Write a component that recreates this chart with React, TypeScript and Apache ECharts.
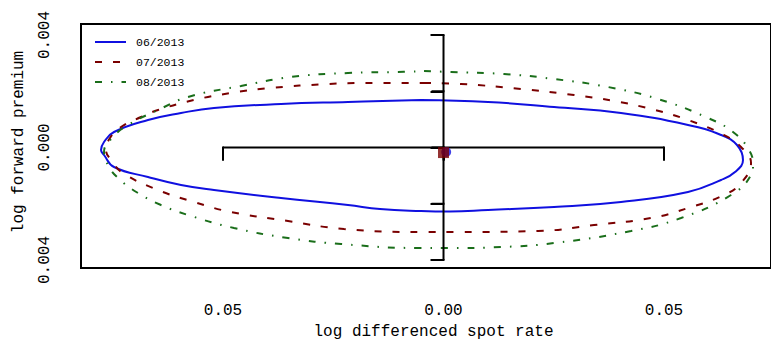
import React, { useEffect, useRef } from "react";
import * as echarts from "echarts";

const seriesNames = ["06/2013", "07/2013", "08/2013"];
const seriesColors = ["#1010e0", "#7a0000", "#1a6e1a"];

// axis ticks and labels
const xTicks = [-0.05, 0, 0.05];
const xTickLabels = ["0.05", "0.00", "0.05"];
const yTicks = [-0.004, -0.002, 0, 0.002, 0.004];
const yLabelTicks = [-0.004, 0, 0.004];
const yTickLabels = ["0.004", "0.000", "0.004"];
const xLimits = [-0.0822, 0.07426];
const yLimits = [-0.004284, 0.004391];

// ellipse outlines (x: log differenced spot rate, y: log forward premium)
const ellipse0613: [number, number][] = [
  [-0.0051, 0.001689], [0.01009, 0.001618], [0.02506, 0.00144], [0.04025, 0.001227],
  [0.05544, 0.0008], [0.06293, 0.000444], [0.06655, 0.0000889], [0.06791, -0.000444],
  [0.0661, -0.000871], [0.06293, -0.001156], [0.05544, -0.001582], [0.04025, -0.001938],
  [0.02506, -0.002116], [0.01009, -0.002222], [0.00147, -0.002276], [-0.0051, -0.002258],
  [-0.0144, -0.002187], [-0.02166, -0.002044],
  [-0.03685, -0.001796], [-0.05204, -0.001511], [-0.05952, -0.001333], [-0.06701, -0.001049],
  [-0.07472, -0.000693], [-0.07698, -0.000267], [-0.07766, -0.0000889], [-0.07698, 0.000196],
  [-0.07472, 0.000551], [-0.06701, 0.000978], [-0.05952, 0.001227], [-0.05204, 0.001404],
  [-0.03685, 0.001547], [-0.02166, 0.001618], [-0.0051, 0.001689],
];
const ellipse0713: [number, number][] = [
  [-0.00442, 0.002293], [0.00397, 0.002258], [0.01757, 0.00208], [0.02959, 0.001867],
  [0.03866, 0.001653], [0.04705, 0.001369], [0.05544, 0.000978], [0.06361, 0.000444],
  [0.06746, 0.0000178], [0.06973, -0.000551], [0.06746, -0.001262], [0.06361, -0.001689],
  [0.05544, -0.002151], [0.04705, -0.002507], [0.03413, -0.002756], [0.02143, -0.002969],
  [0.00397, -0.003004], [-0.0051, -0.003004], [-0.02256, -0.002898], [-0.03526, -0.002613],
  [-0.04819, -0.002293], [-0.05658, -0.001938], [-0.06474, -0.001511], [-0.07268, -0.000907],
  [-0.0754, -0.000444], [-0.07653, -0.0000889], [-0.07562, 0.000338], [-0.07313, 0.000729],
  [-0.06859, 0.001084], [-0.06474, 0.001333], [-0.05658, 0.001689], [-0.04819, 0.001938],
  [-0.03912, 0.002116], [-0.02619, 0.002258], [-0.01803, 0.002293], [-0.00442, 0.002293],
];
const ellipse0813: [number, number][] = [
  [-0.00442, 0.00272], [0.0017, 0.002684], [0.01372, 0.002613], [0.02506, 0.002436],
  [0.0373, 0.002151], [0.04864, 0.001724], [0.05998, 0.001049], [0.06565, 0.000551],
  [0.06927, -0.0000889], [0.07018, -0.000622], [0.06973, -0.000978], [0.06519, -0.001689],
  [0.05385, -0.002507], [0.04252, -0.002969], [0.02506, -0.003396], [0.01304, -0.003538],
  [0.00102, -0.003573], [-0.0051, -0.003573], [-0.02324, -0.003431], [-0.03526, -0.003218],
  [-0.04751, -0.002862], [-0.05794, -0.0024], [-0.06406, -0.002044], [-0.06927, -0.001618],
  [-0.07381, -0.001084], [-0.07608, -0.000622], [-0.07698, -0.00016], [-0.07517, 0.000338],
  [-0.07154, 0.0008], [-0.06474, 0.001333], [-0.05794, 0.001796], [-0.04592, 0.002187],
  [-0.03458, 0.002507], [-0.02166, 0.002649], [-0.01032, 0.002684], [-0.00442, 0.00272],
];
const center0613: [number, number] = [0.0006, -0.00016];
const center0713: [number, number] = [0.0, -0.00018];

const FONT = "Liberation Mono";

function nearestLabel(v: number, ticks: number[], labels: string[]) {
  let best = 0;
  for (let i = 1; i < ticks.length; i++) {
    if (Math.abs(ticks[i] - v) < Math.abs(ticks[best] - v)) best = i;
  }
  return Math.abs(ticks[best] - v) < 1e-9 ? labels[best] : "";
}

export default function App() {
  const ref = useRef<HTMLDivElement>(null);
  useEffect(() => {
    if (!ref.current) return;
    const chart = echarts.init(ref.current, null, { renderer: "svg" });
    const blk = { stroke: "#000", lineWidth: 2 };
    const option: any = {
      animation: false,
      backgroundColor: "#fff",
      grid: {
        left: 81, top: 24, bottom: 74, right: 0,
        outerBoundsMode: "none", containLabel: false,
        show: true, borderColor: "#000", borderWidth: 2, backgroundColor: "transparent",
      },
      legend: {
        data: seriesNames,
        orient: "vertical",
        left: 89, top: 31,
        itemWidth: 31, itemHeight: 14, itemGap: 8,
        itemStyle: { opacity: 0 },
        textStyle: { fontFamily: FONT, fontSize: 11.5, color: "#000", padding: [0, 0, 0, 5] },
      },
      xAxis: {
        type: "value", min: xLimits[0], max: xLimits[1],
        splitLine: { show: false },
        axisLine: { show: false },
        axisTick: { show: true, customValues: xTicks, length: 13, lineStyle: { color: "#000", width: 2 } },
        axisLabel: {
          customValues: xTicks, margin: 35, color: "#000", fontFamily: FONT, fontSize: 16,
          formatter: (v: number) => nearestLabel(v, xTicks, xTickLabels),
        },
        name: "log differenced spot rate", nameLocation: "middle", nameGap: 55,
        nameTextStyle: { fontFamily: FONT, fontSize: 16, color: "#000", padding: [0, 0, 0, 15] },
      },
      yAxis: {
        type: "value", min: yLimits[0], max: yLimits[1],
        splitLine: { show: false },
        axisLine: { show: false },
        axisTick: { show: true, customValues: yTicks, length: 13, lineStyle: { color: "#000", width: 2 } },
        axisLabel: {
          customValues: yLabelTicks, margin: 28, rotate: 90, color: "#000", fontFamily: FONT, fontSize: 16,
          formatter: (v: number) => nearestLabel(v, yLabelTicks, yTickLabels),
        },
        name: "log forward premium", nameLocation: "middle", nameGap: 54,
        nameTextStyle: { fontFamily: FONT, fontSize: 16, color: "#000", padding: [0, 0, 0, 8] },
      },
      series: [
        {
          name: seriesNames[0], type: "line", data: ellipse0613, smooth: 0.45, symbol: "none",
          lineStyle: { color: seriesColors[0], width: 2, type: "solid" }, itemStyle: { color: seriesColors[0] }, z: 2,
        },
        {
          name: seriesNames[1], type: "line", data: ellipse0713, smooth: 0.45, symbol: "none",
          lineStyle: { color: seriesColors[1], width: 2, type: [7, 11] }, itemStyle: { color: seriesColors[1] }, z: 2,
        },
        {
          name: seriesNames[2], type: "line", data: ellipse0813, smooth: 0.45, symbol: "none",
          lineStyle: { color: seriesColors[2], width: 2, type: [7, 9, 1.5, 9] }, itemStyle: { color: seriesColors[2] }, z: 2,
        },
        {
          name: "inner-axes", type: "custom", data: [[0, 0]], silent: true, clip: false, z: 3,
          renderItem: (_p: any, api: any) => {
            const children: any[] = [];
            const a = api.coord([xTicks[0], 0]);
            const b = api.coord([xTicks[xTicks.length - 1], 0]);
            children.push({ type: "line", shape: { x1: a[0], y1: a[1], x2: b[0], y2: b[1] }, style: blk });
            xTicks.forEach((v) => {
              const p = api.coord([v, 0]);
              children.push({ type: "line", shape: { x1: p[0], y1: p[1] - 1, x2: p[0], y2: p[1] + 13 }, style: blk });
            });
            const c = api.coord([0, yTicks[0]]);
            const d = api.coord([0, yTicks[yTicks.length - 1]]);
            children.push({ type: "line", shape: { x1: c[0], y1: c[1], x2: d[0], y2: d[1] }, style: blk });
            yTicks.forEach((v) => {
              const p = api.coord([0, v]);
              children.push({ type: "line", shape: { x1: p[0] - 12, y1: p[1], x2: p[0] + 1, y2: p[1] }, style: blk });
            });
            return { type: "group", children };
          },
        },
        {
          name: "centre 06/2013", type: "scatter", data: [center0613], symbol: "circle", symbolSize: 10,
          itemStyle: { color: seriesColors[0] }, z: 4, silent: true,
        },
        {
          name: "centre 07/2013", type: "scatter", data: [center0713], symbol: "rect", symbolSize: 11,
          itemStyle: { color: seriesColors[1] }, z: 5, silent: true,
        },
      ],
    };
    chart.setOption(option);
    return () => chart.dispose();
  }, []);
  return <div ref={ref} style={{ position: "absolute", left: 0, top: 0, width: 771, height: 342 }} />;
}
